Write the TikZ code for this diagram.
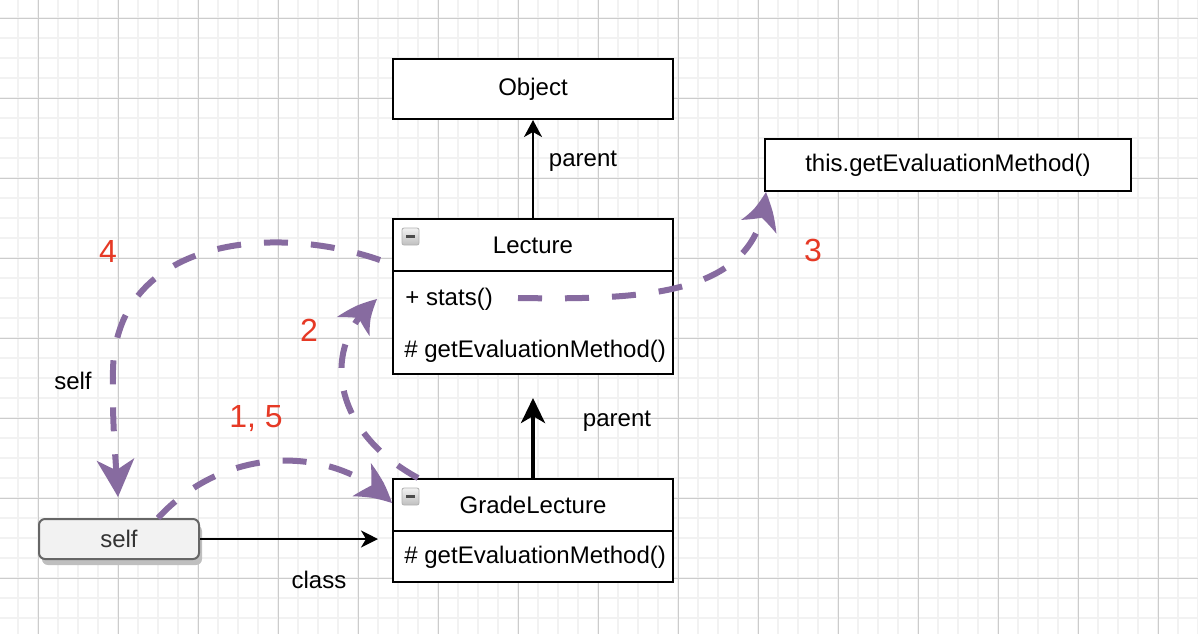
\documentclass[tikz,border=0pt]{standalone}
\usepackage{fontspec}
\setmainfont{Liberation Sans}
\usetikzlibrary{arrows.meta,bending,shadows}
\definecolor{purp}{RGB}{135,107,160}
\definecolor{redlab}{RGB}{230,57,37}
\definecolor{minorg}{RGB}{242,242,242}
\definecolor{majorg}{RGB}{204,204,204}
\definecolor{selffill}{RGB}{242,242,242}
\definecolor{selfdraw}{RGB}{102,102,102}
\definecolor{selftext}{RGB}{51,51,51}
\begin{document}
\begin{tikzpicture}[x=0.5pt,y=-0.5pt,
  box/.style={draw=black,line width=1pt,fill=white,minimum width=140pt,inner sep=0pt,font=\fontsize{12}{14}\selectfont},
  mtext/.style={anchor=west,inner sep=0pt,font=\fontsize{12}{14}\selectfont},
  lbl/.style={inner sep=0pt,font=\fontsize{12}{14}\selectfont},
  num/.style={inner sep=0pt,text=redlab,font=\fontsize{16}{18}\selectfont},
  flow/.style={draw=purp,line width=3pt,dash pattern=on 12pt off 11.5pt,
    -{Stealth[length=19pt,width=19pt,inset=5.5pt,line width=0pt,bend]}},
  icon/.style={minimum size=8.5pt,inner sep=0pt,rounded corners=1pt,draw=gray!60,
    top color=gray!10,bottom color=gray!50,
    path picture={\draw[line width=1.3pt,black!70]
      ([xshift=2pt]path picture bounding box.west) -- ([xshift=-2pt]path picture bounding box.east);}},
  selfbox/.style={draw=selfdraw,line width=1pt,fill=selffill,rounded corners=3pt,
    minimum width=80pt,minimum height=20pt,inner sep=0pt,text=selftext,
    font=\fontsize{12}{14}\selectfont,
    drop shadow={shadow xshift=1.5pt,shadow yshift=-3pt,fill=black!25,opacity=1}}
]
\useasboundingbox (0,0) rectangle (1198,634);
% grid
\foreach \x in {18,38,...,1198} \draw[minorg,line width=1pt] (\x,0) -- (\x,634);
\foreach \y in {18,38,...,634} \draw[minorg,line width=1pt] (0,\y) -- (1198,\y);
\foreach \x in {38,118,...,1198} \draw[majorg,line width=0.5pt] (\x,0) -- (\x,634);
\foreach \y in {18,98,...,634} \draw[majorg,line width=0.5pt] (0,\y) -- (1198,\y);

% boxes
\node[box,minimum height=30pt] (obj) at (533,89) {Object};
\node[box,minimum width=183pt,minimum height=26pt] (this) at (948,165) {this.getEvaluationMethod()};
\node[box,minimum height=26pt] (lecH) at (533,245) {Lecture};
\node[box,minimum height=51.5pt] (lecB) at (533,322.5) {};
\node[mtext] (stats) at (405,299) {+ stats()};
\node[mtext] (lecM) at (404,351) {\# getEvaluationMethod()};
\node[icon] (lecI) at (410.5,236.5) {};
\node[box,minimum height=26pt] (grH) at (533,505) {GradeLecture};
\node[box,minimum height=25.5pt] (grB) at (533,556.5) {};
\node[mtext] (grM) at (404,557) {\# getEvaluationMethod()};
\node[icon] (grI) at (410.5,496.5) {};
\node[selfbox] (self) at (119,539) {self};

% connectors
\coordinate (gpTip) at (533,398);
\coordinate (clsTip) at (378,539);
\draw[line width=1pt,-{Stealth[length=8.5pt,width=9pt,inset=2.5pt]}] (lecH.north) -- (obj.south);
\draw[line width=2pt,-{Stealth[length=12.5pt,width=12pt,inset=3.5pt]}] (grH.north) -- (gpTip);
\draw[line width=1pt,-{Stealth[length=8.5pt,width=8.5pt,inset=2.5pt]}] (self.east) -- (clsTip);

% labels
\node[lbl] (lp1) at (583,161) {parent};
\node[lbl] (lp2) at (617,421) {parent};
\node[lbl] (lcls) at (319,580) {class};
\node[lbl] (lself) at (73,381) {self};
\node[num] (n4) at (108,251) {4};
\node[num] (n2) at (309,330) {2};
\node[num] (n15) at (256,419) {1, 5};
\node[num] (n3) at (813,250) {3};

% dashed flows
\coordinate (p4s) at (380,260);
\coordinate (p4e) at (118,497);
\coordinate (p1s) at (158,518);
\coordinate (p1e) at (392,503);
\coordinate (p2s) at (418,478);
\coordinate (p2e) at (377,299);
\coordinate (p3s) at (518,298);
\coordinate (p3e) at (766,192);
\draw[flow] (p4s) .. controls (270,222) and (116,240) .. (113,370) .. controls (112,430) and (116,460) .. (p4e);
\draw[flow] (p1s) .. controls (230,440) and (340,448) .. (p1e);
\draw[flow] (p2s) .. controls (330,430) and (320,345) .. (p2e);
\draw[flow] (p3s) .. controls (650,300) and (760,295) .. (p3e);
\end{tikzpicture}
\end{document}
